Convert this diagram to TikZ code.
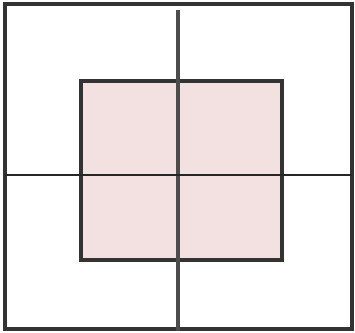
\documentclass[tikz,border=0pt]{standalone}
\usepackage{tikz}

\definecolor{pinkfill}{RGB}{243,224,224}

\begin{document}
\begin{tikzpicture}[x=0.01cm, y=-0.01cm, line width=1pt]
  % Khung ảnh
  \useasboundingbox (0,0) rectangle (355,332);
  % Định nghĩa các điểm
  \coordinate (A) at (5,4);
  \coordinate (B) at (352,329);
  \coordinate (C1) at (81,81);
  \coordinate (C2) at (282,260);
  \coordinate (V1) at (178,10);
  \coordinate (V2) at (178,331);
  \coordinate (H1) at (5,175);
  \coordinate (H2) at (352,175);
  % 1. Hình vuông ngoài
  \draw[black!80] (A) rectangle (B);
  % 2. Hình chữ nhật trong (tô hồng)
  \filldraw[fill=pinkfill, draw=black!80] (C1) rectangle (C2);
  % 3. Hai đường cắt nhau
  \draw[black!70] (V1) -- (V2);
  \draw[black!85, line width=0.8pt] (H1) -- (H2);
\end{tikzpicture}
\end{document}
